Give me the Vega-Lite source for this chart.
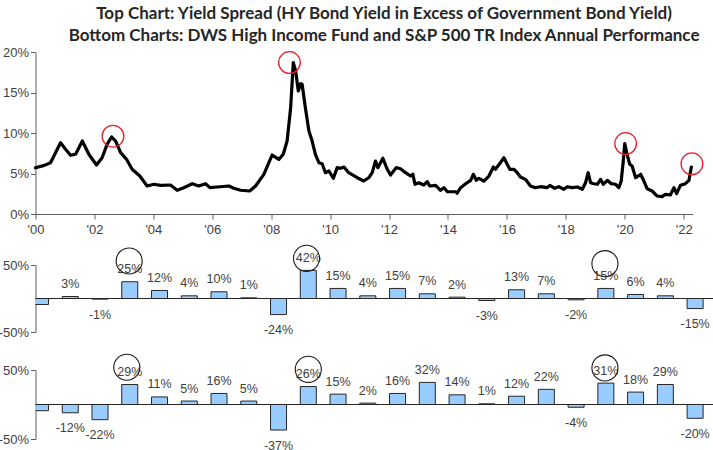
{
  "$schema": "https://vega.github.io/schema/vega-lite/v6.json",
  "background": "white",
  "autosize": {"type": "pad"},
  "padding": {"left": -2.5, "top": 5, "right": 0, "bottom": 0},
  "title": {
    "text": ["Top Chart: Yield Spread (HY Bond Yield in Excess of Government Bond Yield)", "Bottom Charts: DWS High Income Fund and S&P 500 TR Index Annual Performance"],
    "font": "Lato", "fontWeight": "bold", "fontSize": 17, "lineHeight": 22, "color": "#262626",
    "anchor": "middle", "dx": 28, "offset": 1
  },
  "config": {
    "view": {"stroke": null},
    "locale": {"number": {"decimal": ".", "thousands": ",", "grouping": [3], "currency": ["$", ""], "minus": "-"}},
    "axis": {
      "labelFont": "Liberation Sans", "labelFontSize": 13, "labelColor": "#404040",
      "domainColor": "#606060", "tickColor": "#606060", "tickSize": 5, "labelPadding": 2,
      "grid": false, "title": null, "labelFlush": false, "labelOverlap": false
    }
  },
  "datasets": {
    "spread": [
      {"year": 2000.00, "spread": 5.7}, {"year": 2000.30, "spread": 6.0}, {"year": 2000.51, "spread": 6.33}, {"year": 2000.68, "spread": 7.57},
      {"year": 2000.85, "spread": 8.8}, {"year": 2001.02, "spread": 7.99}, {"year": 2001.19, "spread": 7.25}, {"year": 2001.36, "spread": 7.37},
      {"year": 2001.59, "spread": 9.01}, {"year": 2001.81, "spread": 7.37}, {"year": 2002.07, "spread": 6.05}, {"year": 2002.26, "spread": 6.95},
      {"year": 2002.43, "spread": 8.6}, {"year": 2002.58, "spread": 9.51}, {"year": 2002.72, "spread": 9.01}, {"year": 2002.89, "spread": 7.57},
      {"year": 2003.09, "spread": 6.75}, {"year": 2003.28, "spread": 5.52}, {"year": 2003.54, "spread": 4.69}, {"year": 2003.79, "spread": 3.46},
      {"year": 2004.02, "spread": 3.67}, {"year": 2004.24, "spread": 3.54}, {"year": 2004.58, "spread": 3.58}, {"year": 2004.81, "spread": 2.93},
      {"year": 2005.03, "spread": 3.25}, {"year": 2005.32, "spread": 3.74}, {"year": 2005.54, "spread": 3.46}, {"year": 2005.77, "spread": 3.74},
      {"year": 2005.92, "spread": 3.25}, {"year": 2006.17, "spread": 3.33}, {"year": 2006.56, "spread": 3.46}, {"year": 2006.73, "spread": 3.17},
      {"year": 2006.96, "spread": 2.93}, {"year": 2007.27, "spread": 2.84}, {"year": 2007.47, "spread": 3.46}, {"year": 2007.75, "spread": 4.9},
      {"year": 2008.03, "spread": 7.28}, {"year": 2008.26, "spread": 6.75}, {"year": 2008.41, "spread": 7.37}, {"year": 2008.54, "spread": 9.01},
      {"year": 2008.66, "spread": 13.12}, {"year": 2008.75, "spread": 18.68}, {"year": 2008.83, "spread": 17.65}, {"year": 2008.92, "spread": 15.19},
      {"year": 2009.00, "spread": 16.09}, {"year": 2009.05, "spread": 16.01}, {"year": 2009.16, "spread": 13.12}, {"year": 2009.28, "spread": 10.25},
      {"year": 2009.39, "spread": 9.01}, {"year": 2009.50, "spread": 7.37}, {"year": 2009.62, "spread": 6.33}, {"year": 2009.73, "spread": 6.21},
      {"year": 2009.84, "spread": 5.1}, {"year": 2009.96, "spread": 5.31}, {"year": 2010.11, "spread": 4.41}, {"year": 2010.24, "spread": 5.72},
      {"year": 2010.35, "spread": 5.64}, {"year": 2010.47, "spread": 5.8}, {"year": 2010.63, "spread": 5.1}, {"year": 2010.92, "spread": 4.48},
      {"year": 2011.14, "spread": 4.07}, {"year": 2011.31, "spread": 4.48}, {"year": 2011.43, "spread": 5.1}, {"year": 2011.54, "spread": 6.54},
      {"year": 2011.62, "spread": 5.72}, {"year": 2011.79, "spread": 6.88}, {"year": 2011.94, "spread": 5.52}, {"year": 2012.05, "spread": 4.81},
      {"year": 2012.24, "spread": 5.72}, {"year": 2012.39, "spread": 5.59}, {"year": 2012.56, "spread": 5.1}, {"year": 2012.73, "spread": 4.69},
      {"year": 2012.81, "spread": 4.9}, {"year": 2012.88, "spread": 3.67}, {"year": 2013.01, "spread": 3.86}, {"year": 2013.18, "spread": 3.58},
      {"year": 2013.30, "spread": 3.99}, {"year": 2013.38, "spread": 3.46}, {"year": 2013.58, "spread": 3.54}, {"year": 2013.75, "spread": 2.93},
      {"year": 2013.86, "spread": 3.25}, {"year": 2013.98, "spread": 2.75}, {"year": 2014.26, "spread": 2.75}, {"year": 2014.31, "spread": 2.56},
      {"year": 2014.43, "spread": 3.25}, {"year": 2014.60, "spread": 3.74}, {"year": 2014.77, "spread": 4.16}, {"year": 2014.86, "spread": 4.9},
      {"year": 2014.96, "spread": 4.16}, {"year": 2015.05, "spread": 4.41}, {"year": 2015.22, "spread": 4.07}, {"year": 2015.39, "spread": 4.69},
      {"year": 2015.54, "spread": 5.8}, {"year": 2015.61, "spread": 5.52}, {"year": 2015.78, "spread": 6.33}, {"year": 2015.90, "spread": 6.95},
      {"year": 2016.01, "spread": 6.14}, {"year": 2016.10, "spread": 5.52}, {"year": 2016.24, "spread": 5.52}, {"year": 2016.35, "spread": 5.1},
      {"year": 2016.46, "spread": 4.57}, {"year": 2016.63, "spread": 4.28}, {"year": 2016.80, "spread": 3.46}, {"year": 2016.97, "spread": 3.25},
      {"year": 2017.14, "spread": 3.37}, {"year": 2017.37, "spread": 3.25}, {"year": 2017.46, "spread": 3.54}, {"year": 2017.62, "spread": 3.17},
      {"year": 2017.76, "spread": 3.37}, {"year": 2017.93, "spread": 3.05}, {"year": 2018.05, "spread": 3.37}, {"year": 2018.22, "spread": 3.25},
      {"year": 2018.39, "spread": 3.33}, {"year": 2018.56, "spread": 3.05}, {"year": 2018.67, "spread": 3.86}, {"year": 2018.76, "spread": 5.1},
      {"year": 2018.84, "spread": 3.86}, {"year": 2018.95, "spread": 3.74}, {"year": 2019.07, "spread": 3.67}, {"year": 2019.18, "spread": 4.28},
      {"year": 2019.27, "spread": 3.67}, {"year": 2019.41, "spread": 4.16}, {"year": 2019.54, "spread": 3.74}, {"year": 2019.69, "spread": 3.67},
      {"year": 2019.80, "spread": 3.25}, {"year": 2019.88, "spread": 4.07}, {"year": 2019.95, "spread": 6.54}, {"year": 2020.00, "spread": 8.68},
      {"year": 2020.08, "spread": 7.37}, {"year": 2020.17, "spread": 6.14}, {"year": 2020.25, "spread": 5.93}, {"year": 2020.37, "spread": 4.48},
      {"year": 2020.54, "spread": 4.9}, {"year": 2020.65, "spread": 4.07}, {"year": 2020.76, "spread": 3.12}, {"year": 2020.93, "spread": 2.84},
      {"year": 2021.10, "spread": 2.22}, {"year": 2021.27, "spread": 2.14}, {"year": 2021.38, "spread": 2.43}, {"year": 2021.55, "spread": 2.35},
      {"year": 2021.67, "spread": 3.25}, {"year": 2021.76, "spread": 2.51}, {"year": 2021.89, "spread": 3.54}, {"year": 2022.06, "spread": 3.74},
      {"year": 2022.18, "spread": 4.16}, {"year": 2022.26, "spread": 5.8}
    ],
    "redCircles": [
      {"year": 2002.63, "spread": 9.6}, {"year": 2008.62, "spread": 18.7}, {"year": 2020.03, "spread": 8.7}, {"year": 2022.28, "spread": 6.2}
    ],
    "fund": [
      {"year": 2000, "ret": -0.09}, {"year": 2001, "ret": 0.03}, {"year": 2002, "ret": -0.01}, {"year": 2003, "ret": 0.25},
      {"year": 2004, "ret": 0.12}, {"year": 2005, "ret": 0.04}, {"year": 2006, "ret": 0.10}, {"year": 2007, "ret": 0.01},
      {"year": 2008, "ret": -0.24}, {"year": 2009, "ret": 0.42}, {"year": 2010, "ret": 0.15}, {"year": 2011, "ret": 0.04},
      {"year": 2012, "ret": 0.15}, {"year": 2013, "ret": 0.07}, {"year": 2014, "ret": 0.02}, {"year": 2015, "ret": -0.03},
      {"year": 2016, "ret": 0.13}, {"year": 2017, "ret": 0.07}, {"year": 2018, "ret": -0.02}, {"year": 2019, "ret": 0.15},
      {"year": 2020, "ret": 0.06}, {"year": 2021, "ret": 0.04}, {"year": 2022, "ret": -0.15}
    ],
    "fundCircles": [
      {"year": 2002.98, "ret": 0.56}, {"year": 2008.94, "ret": 0.60}, {"year": 2018.97, "ret": 0.52}
    ],
    "sp": [
      {"year": 2000, "ret": -0.09}, {"year": 2001, "ret": -0.12}, {"year": 2002, "ret": -0.22}, {"year": 2003, "ret": 0.29},
      {"year": 2004, "ret": 0.11}, {"year": 2005, "ret": 0.05}, {"year": 2006, "ret": 0.16}, {"year": 2007, "ret": 0.05},
      {"year": 2008, "ret": -0.37}, {"year": 2009, "ret": 0.26}, {"year": 2010, "ret": 0.15}, {"year": 2011, "ret": 0.02},
      {"year": 2012, "ret": 0.16}, {"year": 2013, "ret": 0.32}, {"year": 2014, "ret": 0.14}, {"year": 2015, "ret": 0.01},
      {"year": 2016, "ret": 0.12}, {"year": 2017, "ret": 0.22}, {"year": 2018, "ret": -0.04}, {"year": 2019, "ret": 0.31},
      {"year": 2020, "ret": 0.18}, {"year": 2021, "ret": 0.29}, {"year": 2022, "ret": -0.20}
    ],
    "spCircles": [
      {"year": 2002.9, "ret": 0.54}, {"year": 2009.0, "ret": 0.51}, {"year": 2018.97, "ret": 0.53}
    ]
  },
  "spacing": 51,
  "bounds": "flush",
  "vconcat": [
    {
      "width": 657,
      "height": 162,
      "layer": [
        {
          "data": {"name": "spread"},
          "mark": {"type": "line", "color": "black", "strokeWidth": 3.2, "strokeJoin": "round", "strokeCap": "round"},
          "encoding": {
            "x": {"field": "year", "type": "quantitative",
              "scale": {"domain": [2000, 2022.3], "nice": false, "zero": false},
              "axis": {"values": [2000, 2002, 2004, 2006, 2008, 2010, 2012, 2014, 2016, 2018, 2020, 2022],
                "labelExpr": "\"'\" + substring(toString(datum.value), 2, 4)", "labelPadding": 4}},
            "y": {"field": "spread", "type": "quantitative",
              "scale": {"domain": [0, 20], "nice": false},
              "axis": {"values": [0, 5, 10, 15, 20], "labelExpr": "datum.value + '%'"}}
          }
        },
        {
          "data": {"name": "redCircles"},
          "mark": {"type": "point", "shape": "circle", "filled": false, "stroke": "#e3202a", "strokeWidth": 1.3, "size": 470, "opacity": 1, "clip": false},
          "encoding": {
            "x": {"field": "year", "type": "quantitative"},
            "y": {"field": "spread", "type": "quantitative"}
          }
        }
      ]
    },
    {
      "spacing": 38,
      "bounds": "flush",
      "vconcat": [
        {
          "width": 678,
          "height": 67,
          "layer": [
            {
              "data": {"values": [{}]},
              "mark": {"type": "rule", "color": "#262626", "strokeWidth": 1},
              "encoding": {"y": {"datum": 0, "type": "quantitative"}}
            },
            {
              "data": {"name": "fund"},
              "mark": {"type": "bar", "width": 16, "fill": "#99ccff", "stroke": "#262626", "strokeWidth": 1, "clip": true},
              "encoding": {
                "x": {"field": "year", "type": "quantitative", "scale": {"domain": [2000, 2022.45], "nice": false, "zero": false}, "axis": null},
                "y": {"field": "ret", "type": "quantitative", "scale": {"domain": [-0.5, 0.5], "nice": false},
                  "axis": {"values": [-0.5, 0, 0.5], "format": ".0%"}}
              }
            },
            {
              "data": {"name": "fund"},
              "transform": [{"filter": "datum.year > 2000 && datum.ret >= 0"}],
              "mark": {"type": "text", "dy": -12.5, "fontSize": 12.5, "font": "Liberation Sans", "color": "#404040"},
              "encoding": {
                "x": {"field": "year", "type": "quantitative"},
                "y": {"field": "ret", "type": "quantitative"},
                "text": {"field": "ret", "type": "quantitative", "format": ".0%"}
              }
            },
            {
              "data": {"name": "fund"},
              "transform": [{"filter": "datum.year > 2000 && datum.ret < 0"}],
              "mark": {"type": "text", "dy": 15.5, "fontSize": 12.5, "font": "Liberation Sans", "color": "#404040"},
              "encoding": {
                "x": {"field": "year", "type": "quantitative"},
                "y": {"field": "ret", "type": "quantitative"},
                "text": {"field": "ret", "type": "quantitative", "format": ".0%"}
              }
            },
            {
              "data": {"name": "fundCircles"},
              "mark": {"type": "point", "shape": "circle", "filled": false, "stroke": "#1a1a1a", "strokeWidth": 1.1, "size": 680, "opacity": 1, "clip": false},
              "encoding": {
                "x": {"field": "year", "type": "quantitative"},
                "y": {"field": "ret", "type": "quantitative"}
              }
            }
          ]
        },
        {
          "width": 678,
          "height": 69,
          "layer": [
            {
              "data": {"values": [{}]},
              "mark": {"type": "rule", "color": "#262626", "strokeWidth": 1},
              "encoding": {"y": {"datum": 0, "type": "quantitative"}}
            },
            {
              "data": {"name": "sp"},
              "mark": {"type": "bar", "width": 16, "fill": "#99ccff", "stroke": "#262626", "strokeWidth": 1, "clip": true},
              "encoding": {
                "x": {"field": "year", "type": "quantitative", "scale": {"domain": [2000, 2022.45], "nice": false, "zero": false}, "axis": null},
                "y": {"field": "ret", "type": "quantitative", "scale": {"domain": [-0.5, 0.5], "nice": false},
                  "axis": {"values": [-0.5, 0, 0.5], "format": ".0%"}}
              }
            },
            {
              "data": {"name": "sp"},
              "transform": [{"filter": "datum.year > 2000 && datum.ret >= 0"}],
              "mark": {"type": "text", "dy": -12.5, "fontSize": 12.5, "font": "Liberation Sans", "color": "#404040"},
              "encoding": {
                "x": {"field": "year", "type": "quantitative"},
                "y": {"field": "ret", "type": "quantitative"},
                "text": {"field": "ret", "type": "quantitative", "format": ".0%"}
              }
            },
            {
              "data": {"name": "sp"},
              "transform": [{"filter": "datum.year > 2000 && datum.ret < 0"}],
              "mark": {"type": "text", "dy": 15.5, "fontSize": 12.5, "font": "Liberation Sans", "color": "#404040"},
              "encoding": {
                "x": {"field": "year", "type": "quantitative"},
                "y": {"field": "ret", "type": "quantitative"},
                "text": {"field": "ret", "type": "quantitative", "format": ".0%"}
              }
            },
            {
              "data": {"name": "spCircles"},
              "mark": {"type": "point", "shape": "circle", "filled": false, "stroke": "#1a1a1a", "strokeWidth": 1.1, "size": 680, "opacity": 1, "clip": false},
              "encoding": {
                "x": {"field": "year", "type": "quantitative"},
                "y": {"field": "ret", "type": "quantitative"}
              }
            }
          ]
        }
      ]
    }
  ]
}
